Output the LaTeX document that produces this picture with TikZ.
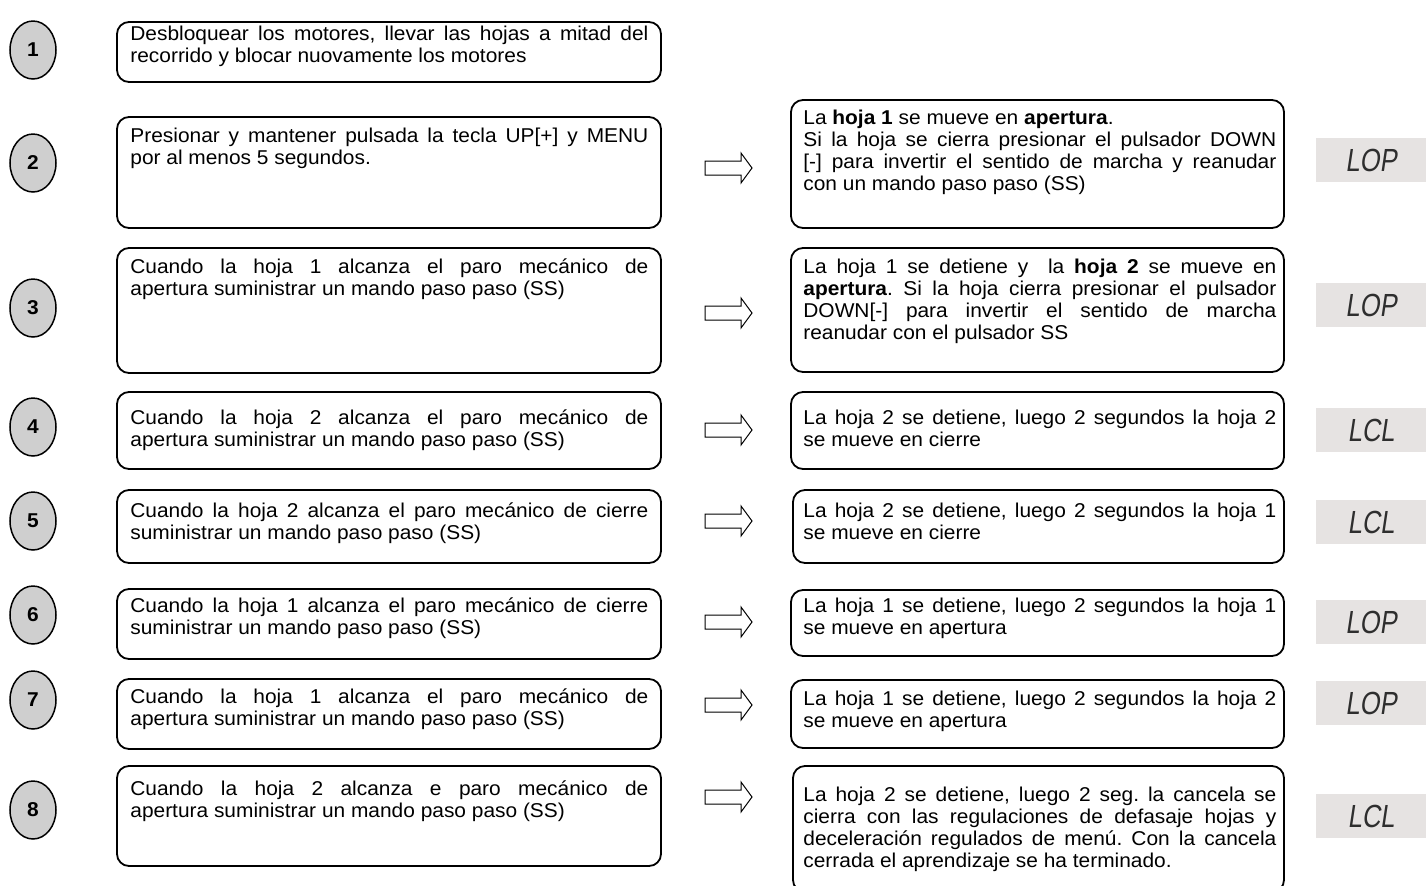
\documentclass[tikz,border=0pt]{standalone}
\usepackage{fontspec}
\setmainfont{Liberation Sans}[FakeStretch=1.045]
\newfontfamily\lcdfont{Liberation Sans}[FakeSlant=0.15,FakeStretch=0.8]
\usetikzlibrary{shapes.geometric,fit}
\definecolor{circfill}{HTML}{CFCFCF}
\definecolor{lcdfill}{HTML}{E6E3E2}
\definecolor{lcdtext}{HTML}{2E2E2E}
\tikzset{
  box/.style={draw=black,line width=0.9pt,rounded corners=6pt,inner sep=0pt},
  ltxt/.style={anchor=north west,inner sep=0pt,text width=259pt,align=justify,
    font=\fontsize{10pt}{11pt}\selectfont},
  rtxt/.style={ltxt,text width=236.5pt},
  num/.style={ellipse,draw=black,line width=0.75pt,fill=circfill,minimum width=23pt,
    minimum height=29pt,inner sep=0pt,font=\fontsize{10pt}{11pt}\selectfont\bfseries},
  lcd/.style={fill=lcdfill,minimum width=55pt,minimum height=22pt,inner sep=0pt,
    text=lcdtext,font=\fontsize{16pt}{18pt}\lcdfont},
  rarrow/.pic={\draw[line width=0.5pt,fill=white] (0,-7) -- (36,-7) -- (36,-15) -- (47,0)
    -- (36,15) -- (36,7) -- (0,7) -- cycle;}
}
\begin{document}
\frenchspacing
\begin{tikzpicture}[x=0.5pt,y=-0.5pt]
\useasboundingbox (0,0) rectangle (1426,885);
% step numbers
\node[num] (n1) at (33,50) {1};
\node[num] (n2) at (33,163) {2};
\node[num] (n3) at (33,308) {3};
\node[num] (n4) at (33,427) {4};
\node[num] (n5) at (33,521) {5};
\node[num] (n6) at (33,615) {6};
\node[num] (n7) at (33,700) {7};
\node[num] (n8) at (33,810) {8};
% left boxes
\node[box,fit={(117,22) (661,82)}] (L1) {};
\node[box,fit={(117,117) (661,228)}] (L2) {};
\node[box,fit={(117,248) (661,373)}] (L3) {};
\node[box,fit={(117,392) (661,469)}] (L4) {};
\node[box,fit={(117,490) (661,563)}] (L5) {};
\node[box,fit={(117,589) (661,659)}] (L6) {};
\node[box,fit={(117,679) (661,749)}] (L7) {};
\node[box,fit={(117,766) (661,866)}] (L8) {};
% right boxes
\node[box,fit={(791,100) (1284,228)}] (R2) {};
\node[box,fit={(791,248) (1284,372)}] (R3) {};
\node[box,fit={(791,392) (1284,469)}] (R4) {};
\node[box,fit={(793,490) (1284,563)}] (R5) {};
\node[box,fit={(791,590) (1284,656)}] (R6) {};
\node[box,fit={(791,680) (1284,748)}] (R7) {};
\node[box,fit={(793,766) (1284,892)}] (R8) {};
% left texts
\node[ltxt] (tL1) at (130,25) {\strut Desbloquear los motores, llevar las hojas a mitad del\linebreak recorrido y blocar nuovamente los motores};
\node[ltxt] (tL2) at (130,127) {\strut Presionar y mantener pulsada la tecla UP[+] y MENU\linebreak por al menos 5 segundos.};
\node[ltxt] (tL3) at (130,258) {\strut Cuando la hoja 1 alcanza el paro mecánico de\linebreak apertura suministrar un mando paso paso (SS)};
\node[ltxt] (tL4) at (130,409) {\strut Cuando la hoja 2 alcanza el paro mecánico de\linebreak apertura suministrar un mando paso paso (SS)};
\node[ltxt] (tL5) at (130,502) {\strut Cuando la hoja 2 alcanza el paro mecánico de cierre\linebreak suministrar un mando paso paso (SS)};
\node[ltxt] (tL6) at (130,597) {\strut Cuando la hoja 1 alcanza el paro mecánico de cierre\linebreak suministrar un mando paso paso (SS)};
\node[ltxt] (tL7) at (130,688) {\strut Cuando la hoja 1 alcanza el paro mecánico de\linebreak apertura suministrar un mando paso paso (SS)};
\node[ltxt] (tL8) at (130,780) {\strut Cuando la hoja 2 alcanza e paro mecánico de\linebreak apertura suministrar un mando paso paso (SS)};
% right texts
\node[rtxt] (tR2) at (803,109) {\strut La \textbf{hoja 1} se mueve en \textbf{apertura}.\\ Si la hoja se cierra presionar el pulsador DOWN\linebreak{} [-] para invertir el sentido de marcha y reanudar\linebreak con un mando paso paso (SS)};
\node[rtxt] (tR3) at (803,258) {\strut La hoja 1 se detiene y\ \ la \textbf{hoja 2} se mueve en\linebreak \textbf{apertura}. Si la hoja cierra presionar el pulsador\linebreak DOWN[-] para invertir el sentido de marcha\linebreak reanudar con el pulsador SS};
\node[rtxt] (tR4) at (803,409) {\strut La hoja 2 se detiene, luego 2 segundos la hoja 2\linebreak se mueve en cierre};
\node[rtxt] (tR5) at (803,502) {\strut La hoja 2 se detiene, luego 2 segundos la hoja 1\linebreak se mueve en cierre};
\node[rtxt] (tR6) at (803,597) {\strut La hoja 1 se detiene, luego 2 segundos la hoja 1\linebreak se mueve en apertura};
\node[rtxt] (tR7) at (803,690) {\strut La hoja 1 se detiene, luego 2 segundos la hoja 2\linebreak se mueve en apertura};
\node[rtxt] (tR8) at (803,786) {\strut La hoja 2 se detiene, luego 2 seg. la cancela se\linebreak cierra con las regulaciones de defasaje hojas y\linebreak deceleración regulados de menú. Con la cancela\linebreak cerrada el aprendizaje se ha terminado.};
% arrows
\pic (a2) at (705,168) {rarrow};
\pic (a3) at (705,313) {rarrow};
\pic (a4) at (705,430) {rarrow};
\pic (a5) at (705,521) {rarrow};
\pic (a6) at (705,622) {rarrow};
\pic (a7) at (705,705) {rarrow};
\pic (a8) at (705,797) {rarrow};
% displays
\node[lcd] (d2) at (1371,160) {LOP};
\node[lcd] (d3) at (1371,305) {LOP};
\node[lcd] (d4) at (1371,430) {LCL};
\node[lcd] (d5) at (1371,522) {LCL};
\node[lcd] (d6) at (1371,622) {LOP};
\node[lcd] (d7) at (1371,703) {LOP};
\node[lcd] (d8) at (1371,816) {LCL};
\end{tikzpicture}
\end{document}
